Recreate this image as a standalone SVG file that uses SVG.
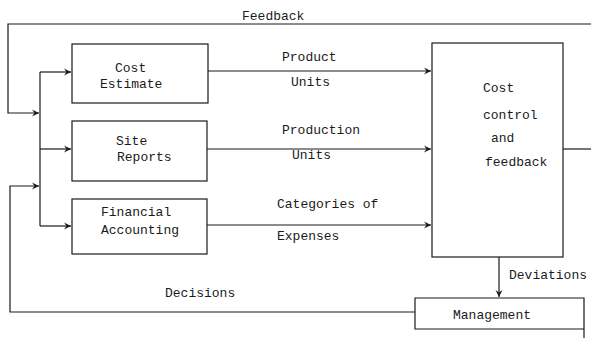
<svg xmlns="http://www.w3.org/2000/svg" width="591" height="338" viewBox="0 0 591 338">
<style>
.box{fill:none;stroke:#1a1a1a;stroke-width:1.2}
.ln{fill:none;stroke:#1a1a1a;stroke-width:1.2}
text{font-family:"Liberation Mono","DejaVu Sans Mono",monospace;font-size:13px;fill:#1a1a1a}
</style>
<defs>
<marker id="ah" markerWidth="8" markerHeight="8" refX="7" refY="4" orient="auto" markerUnits="userSpaceOnUse">
<path d="M0,0.5 L7,4 L0,7.5 L2.5,4 Z" fill="#1a1a1a"/>
</marker>
</defs>
<rect width="591" height="338" fill="#fff"/>
<g id="connectors">
<path class="ln" d="M591,24 H8 V113 H39" marker-end="url(#ah)"/>
<path class="ln" d="M40,72 V226"/>
<path class="ln" d="M40,72 H71" marker-end="url(#ah)"/>
<path class="ln" d="M40,149 H71" marker-end="url(#ah)"/>
<path class="ln" d="M40,226 H71" marker-end="url(#ah)"/>
<path class="ln" d="M415,312 H10 V186 H39" marker-end="url(#ah)"/>
<path class="ln" d="M208,71 H431" marker-end="url(#ah)"/>
<path class="ln" d="M207,149 H431" marker-end="url(#ah)"/>
<path class="ln" d="M207,225 H431" marker-end="url(#ah)"/>
<path class="ln" d="M563,149 H591"/>
<path class="ln" d="M499,257 V297" marker-end="url(#ah)"/>
<text x="242" y="20">Feedback</text>
<text x="282" y="61">Product</text>
<text x="291" y="86">Units</text>
<text x="282" y="134">Production</text>
<text x="292" y="159">Units</text>
<text x="277" y="208">Categories of</text>
<text x="277" y="240">Expenses</text>
<text x="509" y="279">Deviations</text>
<text x="165" y="297">Decisions</text>
</g>
<g id="cost-estimate">
<rect class="box" x="72" y="44" width="136" height="59"/>
<text x="115" y="72">Cost</text>
<text x="100" y="88">Estimate</text>
</g>
<g id="site-reports">
<rect class="box" x="72" y="121" width="135" height="60"/>
<text x="116" y="145">Site</text>
<text x="117" y="161">Reports</text>
</g>
<g id="financial-accounting">
<rect class="box" x="72" y="199" width="135" height="55"/>
<text x="101" y="216">Financial</text>
<text x="101" y="234">Accounting</text>
</g>
<g id="cost-control">
<rect class="box" x="432" y="43" width="131" height="214"/>
<text x="483" y="92">Cost</text>
<text x="483" y="119">control</text>
<text x="491" y="142">and</text>
<text x="485" y="166">feedback</text>
</g>
<g id="management">
<path class="box" d="M584,338 V298 H415 V329 H584"/>
<text x="453" y="319">Management</text>
</g>
</svg>
